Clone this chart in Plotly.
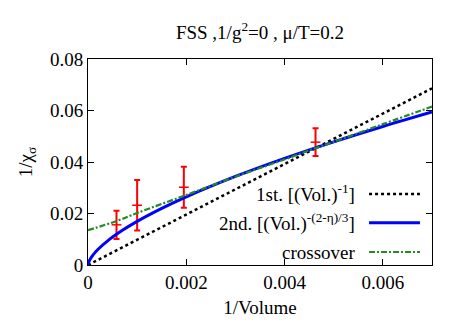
import plotly.graph_objects as go

# Measured points (1/Volume, 1/chi_sigma, error)
inv_volume = [0.00058, 0.00100, 0.00195, 0.00463]
inv_chi = [0.0156, 0.0232, 0.0302, 0.0477]
inv_chi_err = [0.0055, 0.0098, 0.0080, 0.0054]

# Fit curves
first_x = [0.0, 0.007]
first_y = [0.0, 0.0686]

second_x = [0.0, 0.00001, 0.00002, 0.00005, 0.0001, 0.0002, 0.0004, 0.0007,
            0.001, 0.0015, 0.002, 0.003, 0.004, 0.005, 0.006, 0.007]
second_y = [0.0, 0.00087, 0.00136, 0.00245, 0.00383, 0.00600, 0.00937, 0.01345,
            0.01694, 0.02199, 0.02648, 0.03439, 0.04141, 0.04782, 0.05378, 0.0594]

cross_x = [0.0, 0.0006, 0.001, 0.002, 0.003, 0.004, 0.0046, 0.005, 0.006, 0.007]
cross_y = [0.0135, 0.0172, 0.0202, 0.0272, 0.0343, 0.0410, 0.0452, 0.0478, 0.0547, 0.0615]

x_ticks = [0, 0.002, 0.004, 0.006]
x_tick_labels = ["0", "0.002", "0.004", "0.006"]
y_ticks = [0, 0.02, 0.04, 0.06, 0.08]
y_tick_labels = ["0", "0.02", "0.04", "0.06", "0.08"]

legend_labels = ["1st. [(Vol.)<sup>-1</sup>]",
                 "2nd. [(Vol.)<sup>-(2-η)/3</sup>]",
                 "crossover"]

FONT = "Liberation Serif"
RED = "#ff0000"
BLUE = "#0000ff"
GREEN = "#228b22"
BLACK = "#000000"

fig = go.Figure()

fig.add_trace(go.Scatter(
    x=inv_volume, y=inv_chi, mode="markers",
    marker=dict(symbol="line-ew-open", size=7, color=RED, line=dict(color=RED, width=1.5)),
    error_y=dict(type="data", array=inv_chi_err, visible=True, color=RED, thickness=2, width=3),
    showlegend=False, hoverinfo="skip"))

fig.add_trace(go.Scatter(x=first_x, y=first_y, mode="lines",
                         line=dict(color=BLACK, width=2.5, dash="dot"), showlegend=False))
fig.add_trace(go.Scatter(x=second_x, y=second_y, mode="lines",
                         line=dict(color=BLUE, width=3, shape="spline"), showlegend=False))
fig.add_trace(go.Scatter(x=cross_x, y=cross_y, mode="lines",
                         line=dict(color=GREEN, width=2.2, dash="6px,2px,2px,2px", shape="spline"),
                         showlegend=False))

# Gnuplot-style key: text right-aligned, sample to the right
key_y = [0.3447, 0.2053, 0.0631]
key_styles = [dict(color=BLACK, width=2.5, dash="dot"),
              dict(color=BLUE, width=3),
              dict(color=GREEN, width=2.2, dash="6px,2px,2px,2px")]
for lab, ky, st in zip(legend_labels, key_y, key_styles):
    fig.add_annotation(x=0.782, y=ky, xref="paper", yref="paper", text=lab,
                       showarrow=False, xanchor="right", yanchor="middle",
                       font=dict(family=FONT, size=19, color=BLACK))
    fig.add_shape(type="line", xref="paper", yref="paper",
                  x0=0.817, x1=0.965, y0=ky, y1=ky, line=st)

fig.update_layout(
    width=467, height=327,
    margin=dict(l=88, r=35, t=59, b=62),
    paper_bgcolor="white", plot_bgcolor="white",
    font=dict(family=FONT, size=19, color=BLACK),
    title=dict(text="FSS ,1/g<sup>2</sup>=0 , μ/T=0.2", x=0.5, xref="paper",
               y=1 - 32 / 327, yref="container", yanchor="middle", xanchor="center",
               font=dict(family=FONT, size=19, color=BLACK)),
    xaxis=dict(range=[0, 0.007], tickvals=x_ticks, ticktext=x_tick_labels,
               ticks="inside", ticklen=6, tickwidth=1, tickcolor=BLACK,
               showline=True, linecolor=BLACK, linewidth=1, mirror="ticks",
               showgrid=False, zeroline=False,
               tickfont=dict(family=FONT, size=19),
               title=dict(text="1/Volume", font=dict(family=FONT, size=19), standoff=8)),
    yaxis=dict(range=[0, 0.08], tickvals=y_ticks, ticktext=y_tick_labels,
               ticks="inside", ticklen=6, tickwidth=1, tickcolor=BLACK,
               showline=True, linecolor=BLACK, linewidth=1, mirror="ticks",
               showgrid=False, zeroline=False,
               tickfont=dict(family=FONT, size=19),
               title=dict(text="1/χ<sub>σ</sub>", font=dict(family=FONT, size=19), standoff=12)),
)

fig.write_html("out.html", config={"displayModeBar": False},
               post_script="document.body.style.margin='0';")
